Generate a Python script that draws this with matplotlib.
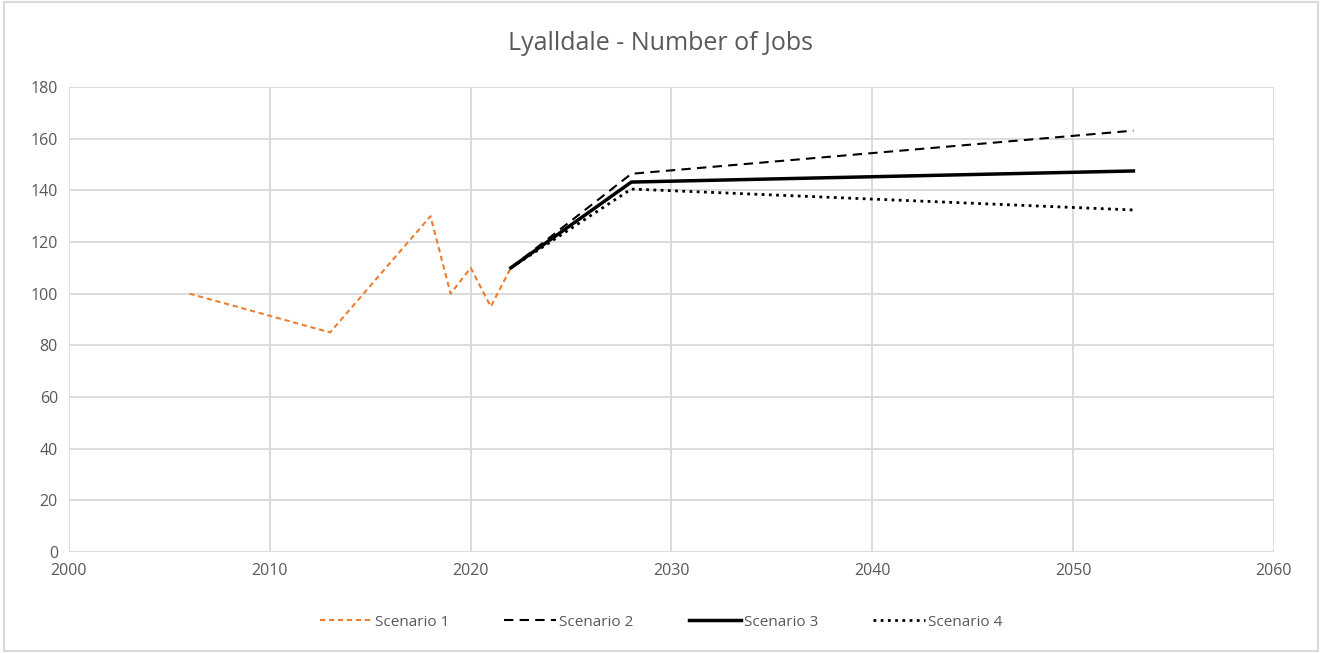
import matplotlib
matplotlib.use("Agg")
import matplotlib.pyplot as plt
from matplotlib.patches import Rectangle

plt.rcParams["font.family"] = ["Open Sans", "DejaVu Sans"]

s1_years = [2006, 2013, 2018, 2019, 2020, 2021, 2022, 2028, 2053]
s1_jobs = [100, 85, 130, 100, 110, 95, 110, 143.2, 147.5]
proj_years = [2022, 2028, 2053]
s2_jobs = [110, 146.4, 163.1]
s3_jobs = [110, 143.2, 147.5]
s4_jobs = [110, 140.5, 132.4]

grey = "#595959"
grid = "#d9d9d9"

fig = plt.figure(figsize=(13.22, 6.53), dpi=100)
ax = fig.add_axes([69 / 1322, 101 / 653, 1205 / 1322, 465 / 653])

ax.plot(s1_years, s1_jobs, color="#ed7d31", linestyle=(0, (2.5, 1.8)), lw=1.5, label="Scenario 1")
ax.plot(proj_years, s2_jobs, color="black", linestyle=(0, (4.5, 3)), lw=1.5, label="Scenario 2")
ax.plot(proj_years, s3_jobs, color="black", linestyle="-", lw=2.5, label="Scenario 3")
ax.plot(proj_years, s4_jobs, color="black", linestyle=(0, (1, 1.6)), lw=2, label="Scenario 4")

ax.set_xlim(2000, 2060)
ax.set_ylim(0, 180)
ax.set_xticks(range(2000, 2061, 10))
ax.set_yticks(range(0, 181, 20))
ax.grid(True, color=grid, lw=1.3)
ax.set_axisbelow(True)
for s in ax.spines.values():
    s.set_visible(False)
ax.tick_params(length=0, labelsize=11.5, colors=grey, pad=8)

fig.text(0.5, 1 - 43 / 653, "Lyalldale - Number of Jobs", ha="center", va="center",
         fontsize=18, color=grey)

leg = fig.legend(loc="center", bbox_to_anchor=(0.5, 1 - 622 / 653), ncol=4, frameon=False,
                 fontsize=11, handlelength=3.4, columnspacing=3.6, handletextpad=0.2)
for t in leg.get_texts():
    t.set_color(grey)

fig.patches.append(Rectangle((0.003, 0.003), 0.994, 0.994, transform=fig.transFigure,
                             fill=False, edgecolor=grid, lw=1.5))

fig.savefig("out.png", dpi=100)
